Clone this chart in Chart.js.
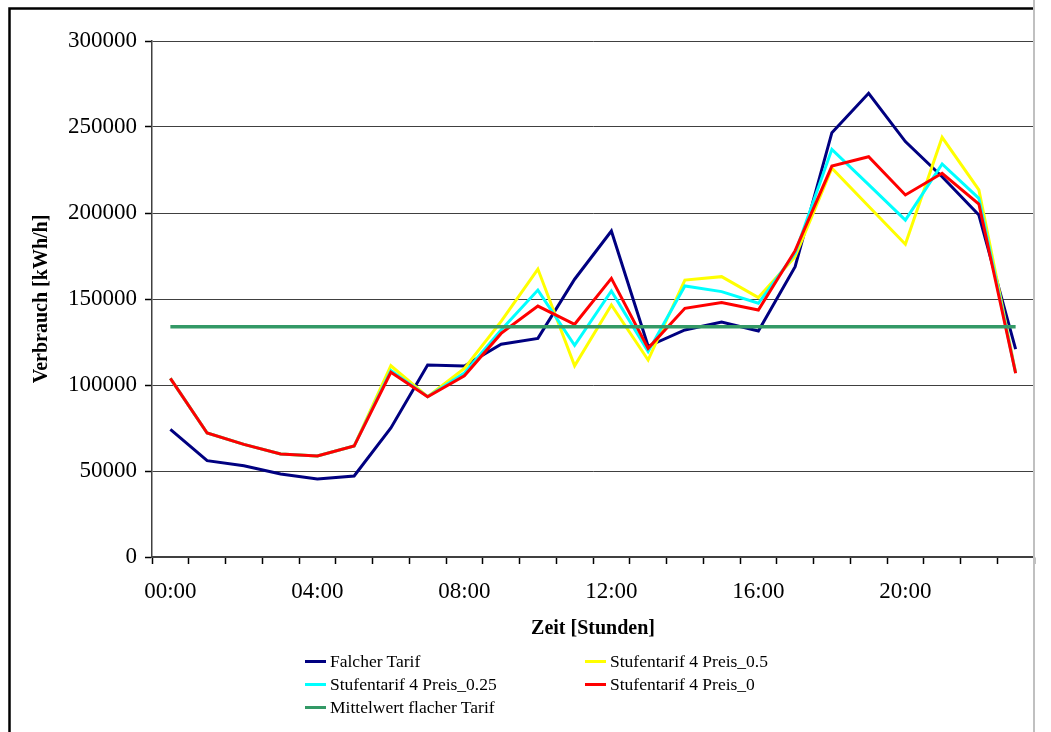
<!DOCTYPE html>
<html lang="de">
<head>
<meta charset="utf-8">
<title>Verbrauch</title>
<script src="https://cdn.jsdelivr.net/npm/chart.js@4.4.1/dist/chart.umd.min.js"></script>
<style>
  html, body { margin: 0; padding: 0; background: #fff; }
  #contenedor { position: relative; width: 1051px; height: 732px; }
  #leyenda {
    position: absolute; left: 305px; top: 650px;
    display: grid; grid-template-columns: 280px auto;
    font-family: "Liberation Serif", "Times New Roman", serif;
    font-size: 17.5px; color: #000;
  }
  .item { display: flex; align-items: center; height: 23px; white-space: nowrap; }
  .linea { width: 21px; height: 3px; margin-right: 4px; }
</style>
</head>
<body>
<div id="contenedor">
  <canvas id="grafica" width="1051" height="732"></canvas>
  <div id="leyenda"></div>
</div>
<script>
const horas = ["00:00", "01:00", "02:00", "03:00", "04:00", "05:00", "06:00", "07:00",
  "08:00", "09:00", "10:00", "11:00", "12:00", "13:00", "14:00", "15:00",
  "16:00", "17:00", "18:00", "19:00", "20:00", "21:00", "22:00", "23:00"];

const falcherTarif = [74200, 56000, 53100, 48300, 45300, 47100, 75000, 111600,
  111000, 123700, 127100, 161500, 189500, 122500, 132000, 136600,
  131400, 168800, 246700, 269600, 241500, 221100, 198800, 120800];

const preis05 = [103900, 72100, 65500, 59900, 58700, 64500, 111200, 93200,
  109700, 137000, 167400, 111200, 146500, 114500, 161000, 163000,
  150800, 174600, 226000, 203900, 181800, 244000, 213400, 107200];

const preis025 = [103900, 72100, 65500, 59900, 58700, 64500, 108500, 93200,
  107000, 132000, 155200, 123100, 154700, 119400, 157600, 154300,
  147500, 176700, 237000, 216500, 195900, 228500, 208500, 107000];

const preis0 = [103900, 72100, 65500, 59900, 58700, 64500, 107400, 93200,
  105400, 130000, 145900, 135300, 162000, 121300, 144600, 147900,
  143600, 178100, 227300, 232700, 210500, 223100, 205200, 106800];

const mittelwert = [133900, 133900, 133900, 133900, 133900, 133900, 133900, 133900,
  133900, 133900, 133900, 133900, 133900, 133900, 133900, 133900,
  133900, 133900, 133900, 133900, 133900, 133900, 133900, 133900];

const yTicks = [0, 50000, 100000, 150000, 200000, 250000, 300000];

const fuente = '"Liberation Serif", "Times New Roman", serif';

// Rahmen wie im Excel-Diagramm
const rahmen = {
  id: 'rahmen',
  afterDraw(chart) {
    const ctx = chart.ctx;
    const derecha = chart.chartArea.right;
    ctx.save();
    ctx.strokeStyle = '#000';
    ctx.lineWidth = 2.5;
    ctx.beginPath();
    ctx.moveTo(9.5, chart.height);
    ctx.lineTo(9.5, 8.5);
    ctx.lineTo(derecha, 8.5);
    ctx.stroke();
    ctx.strokeStyle = '#c0c0c0';
    ctx.lineWidth = 2;
    ctx.beginPath();
    ctx.moveTo(derecha, 0);
    ctx.lineTo(derecha, chart.height);
    ctx.stroke();
    ctx.restore();
  }
};

function serie(label, data, color, orden, ancho = 3) {
  return {
    label, data,
    borderColor: color, backgroundColor: color,
    borderWidth: ancho, pointRadius: 0, tension: 0, fill: false,
    order: orden
  };
}

const chart = new Chart(document.getElementById('grafica'), {
  type: 'line',
  data: {
    labels: horas,
    datasets: [
      serie('Falcher Tarif', falcherTarif, '#000080', 5),
      serie('Stufentarif 4 Preis_0.5', preis05, '#ffff00', 4),
      serie('Stufentarif 4 Preis_0.25', preis025, '#00ffff', 3),
      serie('Stufentarif 4 Preis_0', preis0, '#ff0000', 2),
      serie('Mittelwert flacher Tarif', mittelwert, '#339966', 1, 3.5)
    ]
  },
  options: {
    responsive: false,
    animation: false,
    layout: { padding: { top: 41, right: 17, left: 0, bottom: 0 } },
    plugins: {
      legend: { display: false },
      tooltip: { enabled: false }
    },
    scales: {
      x: {
        type: 'category',
        offset: true,
        afterFit: s => { s.height = 175; },
        grid: {
          offset: true, drawOnChartArea: false,
          tickLength: 7, tickColor: '#000', tickWidth: 1.5
        },
        border: { color: '#404040', width: 1.5 },
        ticks: {
          autoSkip: false, maxRotation: 0, padding: 14, color: '#000',
          font: { family: fuente, size: 23 },
          callback: (valor, i) => i % 4 === 0 ? horas[i] : ''
        },
        title: {
          display: true, text: 'Zeit [Stunden]', color: '#000',
          font: { family: fuente, size: 20, weight: 'bold' },
          padding: { top: 91, bottom: 91 }
        }
      },
      y: {
        min: 0, max: 300000,
        afterFit: s => { s.width = 152; },
        afterBuildTicks: s => { s.ticks = yTicks.map(v => ({ value: v })); },
        grid: {
          color: '#404040', lineWidth: 1,
          tickLength: 7, tickColor: '#000', tickWidth: 1.5
        },
        border: { color: '#404040', width: 1.5 },
        ticks: {
          padding: 8, color: '#000',
          font: { family: fuente, size: 23 },
          callback: v => String(v)
        },
        title: {
          display: true, text: 'Verbrauch [kWh/h]', color: '#000',
          font: { family: fuente, size: 20, weight: 'bold' },
          padding: { top: 30, bottom: 30 }
        }
      }
    }
  },
  plugins: [rahmen]
});

// ======================= LEGENDE =======================
const leyenda = document.getElementById('leyenda');
chart.data.datasets.forEach(ds => {
  const item = document.createElement('div');
  item.className = 'item';
  const linea = document.createElement('span');
  linea.className = 'linea';
  linea.style.background = ds.borderColor;
  const texto = document.createElement('span');
  texto.textContent = ds.label;
  item.appendChild(linea);
  item.appendChild(texto);
  leyenda.appendChild(item);
});
</script>
</body>
</html>
